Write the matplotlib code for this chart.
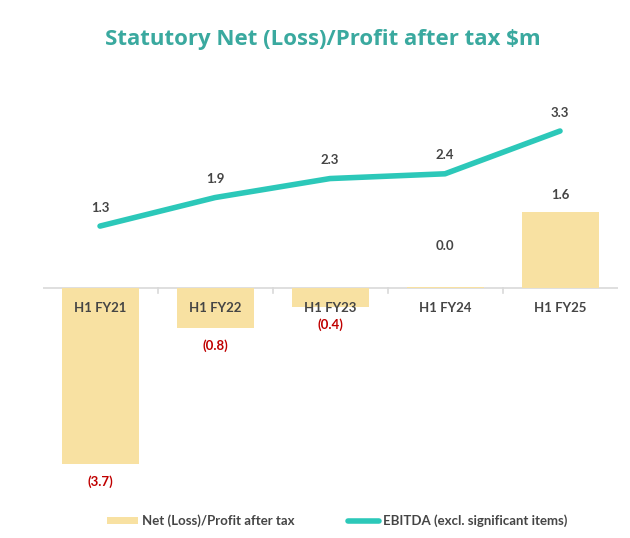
import matplotlib.pyplot as plt
from matplotlib.lines import Line2D
from matplotlib.patches import Patch

# data
periods = ["H1 FY21", "H1 FY22", "H1 FY23", "H1 FY24", "H1 FY25"]
net_profit = [-3.7, -0.85, -0.4, 0.02, 1.6]
net_labels = ["(3.7)", "(0.8)", "(0.4)", "0.0", "1.6"]
ebitda = [1.3, 1.9, 2.3, 2.4, 3.3]
ebitda_labels = ["1.3", "1.9", "2.3", "2.4", "3.3"]

bar_col = "#F8E1A2"
line_col = "#2CC8B9"
title_col = "#3AA99F"
text_col = "#454545"
neg_col = "#C00000"

fig = plt.figure(figsize=(6.3, 5.38), dpi=100)
ax = fig.add_axes([0.0675, 0.1115, 0.9127, 0.751])

x = list(range(len(periods)))
ax.bar(x, net_profit, width=0.67, color=bar_col, zorder=2)
ax.plot(x, ebitda, color=line_col, lw=4, solid_capstyle="round", zorder=3)

ax.set_xlim(-0.5, 4.5)
ax.set_ylim(-4.0, 4.5)
ax.axhline(0, color="#D9D9D9", lw=1.2, zorder=1)
for b in [0.5, 1.5, 2.5, 3.5]:
    ax.plot([b, b], [0, -0.1], color="#D9D9D9", lw=1.2, zorder=1)
ax.axis("off")

lab_font = "Lato"

# category labels just below the axis
for i, p in enumerate(periods):
    ax.annotate(p, (i, 0), xytext=(0, -10), textcoords="offset points",
                ha="center", va="top", fontsize=9.5, fontweight="bold",
                color=text_col, family=lab_font, zorder=4)

# bar value labels
for i, (v, s) in enumerate(zip(net_profit, net_labels)):
    if v < 0:
        ax.annotate(s, (i, v), xytext=(0, -8), textcoords="offset points",
                    ha="center", va="top", fontsize=9.5, fontweight="bold",
                    color=neg_col, family=lab_font)
    elif v < 0.1:
        ax.annotate(s, (i, v), xytext=(0, 25), textcoords="offset points",
                    ha="center", va="bottom", fontsize=9.5, fontweight="bold",
                    color=text_col, family=lab_font)
    else:
        ax.annotate(s, (i, v), xytext=(0, 8), textcoords="offset points",
                    ha="center", va="bottom", fontsize=9.5, fontweight="bold",
                    color=text_col, family=lab_font)

# line value labels
for i, (v, s) in enumerate(zip(ebitda, ebitda_labels)):
    ax.annotate(s, (i, v), xytext=(0, 9), textcoords="offset points",
                ha="center", va="bottom", fontsize=9.5, fontweight="bold",
                color=text_col, family=lab_font)

fig.text(0.513, 0.927, "Statutory Net (Loss)/Profit after tax $m",
         ha="center", va="center", fontsize=16, fontweight="bold",
         color=title_col, family="Open Sans")

handles = [Patch(facecolor=bar_col, edgecolor="none"),
           Line2D([0], [0], color=line_col, lw=4, solid_capstyle="round")]
fig.legend(handles, ["Net (Loss)/Profit after tax", "EBITDA (excl. significant items)"],
           loc="center", bbox_to_anchor=(0.535, 0.032), ncol=2, frameon=False,
           handlelength=2.4, handleheight=0.5, columnspacing=4.0, handletextpad=0.3,
           prop={"family": lab_font, "weight": "bold", "size": 9.5},
           labelcolor=text_col)

fig.savefig("out.png", dpi=100, facecolor="white")
